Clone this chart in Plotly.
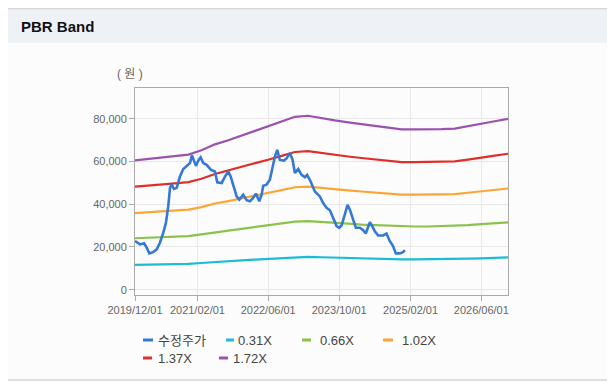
import plotly.graph_objects as go

# ---------------- data ----------------
price_dates = [
    "2019-12-01", "2020-01-04", "2020-02-01", "2020-02-19", "2020-03-08", "2020-04-04",
    "2020-04-28", "2020-05-20", "2020-06-12", "2020-06-30", "2020-07-16", "2020-07-28",
    "2020-08-08", "2020-08-24", "2020-09-12", "2020-10-04", "2020-10-27", "2020-11-19",
    "2020-12-12", "2020-12-25", "2021-01-08", "2021-01-22", "2021-02-07", "2021-02-23",
    "2021-03-13", "2021-04-05", "2021-05-05", "2021-06-01", "2021-06-17", "2021-07-17",
    "2021-08-09", "2021-08-31", "2021-09-17", "2021-10-09", "2021-10-28", "2021-11-15",
    "2021-12-12", "2022-01-04", "2022-01-27", "2022-02-18", "2022-03-09", "2022-04-01",
    "2022-04-17", "2022-04-28", "2022-05-21", "2022-06-13", "2022-07-01", "2022-07-17",
    "2022-08-02", "2022-08-20", "2022-09-17", "2022-10-05", "2022-10-28", "2022-11-15",
    "2022-12-01", "2022-12-24", "2023-01-16", "2023-02-08", "2023-02-23", "2023-03-19",
    "2023-04-17", "2023-05-21", "2023-06-13", "2023-07-06", "2023-07-29", "2023-08-20",
    "2023-09-13", "2023-09-30", "2023-10-17", "2023-11-08", "2023-11-27", "2023-12-13",
    "2024-01-04", "2024-01-23", "2024-02-19", "2024-03-13", "2024-03-31", "2024-04-16",
    "2024-04-28", "2024-05-16", "2024-06-01", "2024-06-24", "2024-07-28", "2024-08-20",
    "2024-09-12", "2024-10-04", "2024-10-23", "2024-11-19", "2024-12-12", "2024-12-24",
]
price_values = [
    22800, 21200, 21700, 19700, 17000, 17600,
    18900, 22000, 26700, 31300, 39100, 47700,
    49200, 47200, 47700, 53000, 56500, 57700,
    59300, 63000, 60000, 58000, 60500, 62000,
    59300, 58500, 56100, 55400, 50300, 50000,
    53000, 55400, 53000, 48400, 43700, 42200,
    44500, 41900, 41400, 43000, 45000, 41400,
    44500, 48700, 49200, 51600, 57700, 62400,
    65500, 60800, 60500, 61500, 64000, 60900,
    54700, 56500, 53800, 52700, 53800, 50700,
    46000, 43700, 40600, 38300, 37200, 33600,
    29800, 29000, 30100, 35200, 39800, 37500,
    32800, 29000, 29000, 27900, 26300, 29000,
    31600, 29500, 27400, 25400, 25400, 26300,
    22700, 20400, 17000, 17000, 17600, 18500,
]

band_dates = [
    "2019-12-01", "2020-03-01", "2020-06-01", "2020-09-01", "2020-12-01",
    "2021-03-01", "2021-06-01", "2021-09-01", "2021-12-01",
    "2022-03-01", "2022-06-01", "2022-09-01", "2022-12-01",
    "2023-03-01", "2023-06-01", "2023-09-01", "2023-12-01",
    "2024-03-01", "2024-06-01", "2024-09-01", "2024-12-01",
    "2025-03-01", "2025-06-01", "2025-09-01", "2025-12-01",
    "2026-03-01", "2026-06-01", "2026-09-01", "2026-12-01",
]
band_031 = [11600, 11700, 11800, 12000, 12100, 12500, 13000, 13300, 13700,
            14100, 14500, 14900, 15300, 15400, 15200, 15000, 14800, 14700,
            14500, 14400, 14200, 14200, 14200, 14300, 14300, 14500, 14700,
            14900, 15100]
band_066 = [24100, 24300, 24500, 24800, 25100, 25900, 26900, 27700, 28500,
            29300, 30200, 31000, 31900, 32100, 31600, 31200, 30900, 30500,
            30200, 29900, 29600, 29600, 29600, 29700, 29800, 30200, 30700,
            31100, 31500]
band_102 = [35900, 36300, 36600, 37100, 37500, 38700, 40400, 41500, 42800,
            44100, 45400, 46700, 48000, 48300, 47600, 47000, 46500, 46000,
            45400, 44900, 44500, 44500, 44500, 44600, 44800, 45400, 46100,
            46800, 47400]
band_137 = [48300, 48700, 49200, 49800, 50400, 52000, 54200, 55800, 57500,
            59200, 60900, 62700, 64500, 64900, 64000, 63200, 62400, 61700,
            61000, 60400, 59800, 59800, 59800, 59900, 60100, 60900, 62000,
            62800, 63700]
band_172 = [60600, 61200, 61800, 62500, 63300, 65300, 68100, 70000, 72200,
            74300, 76500, 78700, 81000, 81500, 80300, 79300, 78400, 77500,
            76600, 75800, 75100, 75100, 75100, 75200, 75500, 76500, 77800,
            78900, 80000]

series_names = ["수정주가", "0.31X", "0.66X", "1.02X", "1.37X", "1.72X"]
series_colors = ["#3579d6", "#1cbcd4", "#8bc24c", "#fba633", "#de2f2a", "#9b52ae"]

x_tick_vals = ["2019-12-01", "2021-02-01", "2022-06-01", "2023-10-01", "2025-02-01", "2026-06-01"]
x_tick_text = ["2019/12/01", "2021/02/01", "2022/06/01", "2023/10/01", "2025/02/01", "2026/06/01"]
y_tick_vals = [0, 20000, 40000, 60000, 80000]

# ---------------- layout geometry ----------------
# the page body has an 8px margin, so the figure is sized to fit inside it
OFF = 8
W, H = 607, 384
ML, MR, MT, MB = 127, 107, 80, 97
PW, PH = W - ML - MR, H - MT - MB


def px(x):
    """page pixel x -> paper x"""
    return (x - OFF - ML) / PW


def py(y):
    """page pixel y -> paper y"""
    return (H - MB - (y - OFF)) / PH


FONT = "Liberation Sans, Arial, 'Noto Sans CJK KR', sans-serif"

fig = go.Figure()

band_series = [band_031, band_066, band_102, band_137, band_172]
for i, vals in enumerate(band_series):
    fig.add_trace(go.Scatter(
        x=band_dates, y=vals, mode="lines", name=series_names[i + 1],
        line=dict(color=series_colors[i + 1], width=2.2), showlegend=False,
    ))

fig.add_trace(go.Scatter(
    x=price_dates, y=price_values, mode="lines", name=series_names[0],
    line=dict(color=series_colors[0], width=2.6), showlegend=False,
))

# legend drawn as short line keys plus text labels (order follows series_names)
legend_slots = [  # (symbol left, symbol right, text left, row centre) in page pixels
    (143, 153, 156, 340), (226, 234, 236, 340), (302, 311, 318, 340), (383, 393, 400, 340),
    (143, 152, 156, 358), (219, 228, 231, 358),
]
legend_shapes, legend_texts = [], []
for name, color, (s0, s1, t0, yc) in zip(series_names, series_colors, legend_slots):
    legend_shapes.append(dict(
        type="line", xref="paper", yref="paper", x0=px(s0), x1=px(s1),
        y0=py(yc), y1=py(yc), line=dict(color=color, width=3),
    ))
    legend_texts.append(dict(
        text=name, xref="paper", yref="paper", x=px(t0), y=py(yc),
        xanchor="left", yanchor="middle", showarrow=False,
        font=dict(size=13, color="#444444", family=FONT),
    ))

fig.update_layout(
    width=W, height=H,
    margin=dict(l=ML, r=MR, t=MT, b=MB),
    paper_bgcolor="#ffffff",
    plot_bgcolor="#ffffff",
    font=dict(family=FONT, color="#555555", size=11),
    showlegend=False,
    xaxis=dict(
        type="date", range=["2019-12-01", "2026-12-01"],
        tickmode="array", tickvals=x_tick_vals, ticktext=x_tick_text,
        showgrid=True, gridcolor="#e8e8e8", gridwidth=1,
        showline=True, linecolor="#aaaaaa", linewidth=1, mirror=True,
        ticks="outside", ticklen=5, tickcolor="#aaaaaa",
        tickfont=dict(size=11, color="#666666"), zeroline=False,
    ),
    yaxis=dict(
        range=[-2500, 94500],
        tickmode="array", tickvals=y_tick_vals, tickformat=",",
        showgrid=True, gridcolor="#e8e8e8", gridwidth=1,
        showline=True, linecolor="#aaaaaa", linewidth=1, mirror=True,
        ticks="outside", ticklen=5, tickcolor="#aaaaaa",
        tickfont=dict(size=11, color="#666666"), zeroline=False,
    ),
    shapes=[
        # content panel background
        dict(type="rect", xref="paper", yref="paper", x0=px(5), x1=px(620),
             y0=py(380), y1=py(42.7), fillcolor="#fcfcfc", line=dict(width=0), layer="below"),
        # header band
        dict(type="rect", xref="paper", yref="paper", x0=px(5), x1=px(620),
             y0=py(42.7), y1=py(7), fillcolor="#eef2f7", line=dict(width=0), layer="below"),
        # header top border
        dict(type="line", xref="paper", yref="paper", x0=px(5), x1=px(620),
             y0=py(8.5), y1=py(8.5), line=dict(color="#d6d6d6", width=1.5)),
        # bottom border
        dict(type="line", xref="paper", yref="paper", x0=px(5), x1=px(620),
             y0=py(380), y1=py(380), line=dict(color="#d6d6d6", width=1.5)),
    ] + legend_shapes,
    annotations=[
        dict(text="<b>PBR Band</b>", xref="paper", yref="paper", x=px(19), y=py(26),
             xanchor="left", yanchor="middle", showarrow=False,
             font=dict(size=15, color="#111111", family=FONT)),
        dict(text="( 원 )", xref="paper", yref="paper", x=px(130), y=py(74),
             xanchor="center", yanchor="middle", showarrow=False,
             font=dict(size=12, color="#666666", family=FONT)),
    ] + legend_texts,
)

fig.write_html("out.html")
